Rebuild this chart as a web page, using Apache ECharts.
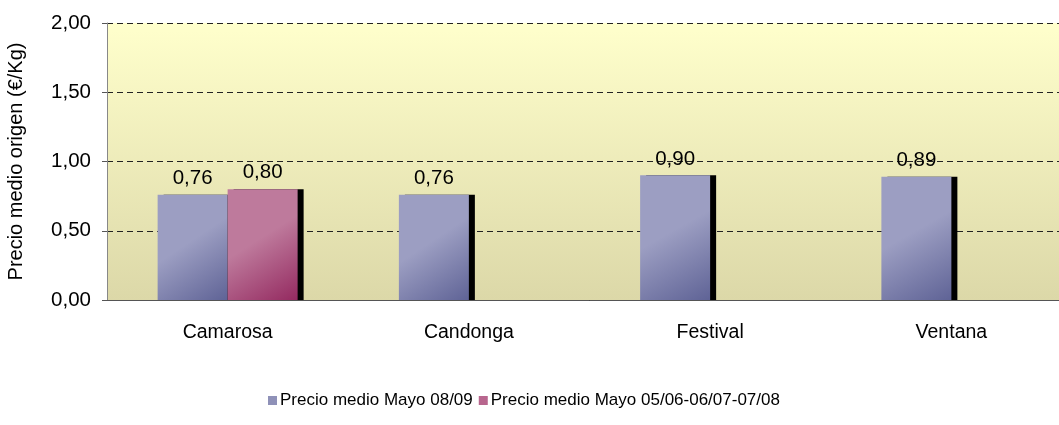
<!DOCTYPE html>
<html>
<head>
<meta charset="utf-8">
<script src="https://cdn.jsdelivr.net/npm/echarts@6/dist/echarts.min.js"></script>
<style>
html,body{margin:0;padding:0;background:#fff;overflow:hidden;}
#c{width:1073px;height:425px;}
</style>
</head>
<body>
<div id="c"></div>
<script>
var categories = ['Camarosa', 'Candonga', 'Festival', 'Ventana'];
var seriesNames = ['Precio medio Mayo 08/09', 'Precio medio Mayo 05/06-06/07-07/08'];
var valuesMayo0809 = [0.76, 0.76, 0.90, 0.89];
var valuesMayoPrev = [0.80, null, null, null];
var yTicks = [0, 0.5, 1, 1.5, 2];

var FONT = 'Liberation Sans, Arial, sans-serif';
function fmt(v) { return v.toFixed(2).replace('.', ','); }
function grad(light, dark) {
  return {
    type: 'linear', x: 0, y: 0, x2: 1, y2: 1,
    colorStops: [
      { offset: 0, color: light },
      { offset: 0.45, color: light },
      { offset: 1, color: dark }
    ]
  };
}

var chart = echarts.init(document.getElementById('c'), null, { renderer: 'canvas' });
chart.setOption({
  animation: false,
  textStyle: { fontFamily: FONT },
  grid: {
    left: 107, right: 1, top: 23, bottom: 125,
    outerBoundsMode: 'none',
    containLabel: false,
    show: true,
    borderWidth: 0,
    backgroundColor: {
      type: 'linear', x: 0, y: 0, x2: 0, y2: 1,
      colorStops: [
        { offset: 0, color: '#FFFFCC' },
        { offset: 1, color: '#DCD8A8' }
      ]
    }
  },
  legend: {
    bottom: 11,
    left: 263,
    itemWidth: 9,
    itemHeight: 9,
    itemGap: 6,
    icon: 'rect',
    textStyle: { fontFamily: FONT, fontSize: 17, color: '#000', padding: [0, 0, 0, -2] },
    data: [
      { name: seriesNames[0], itemStyle: { color: '#8F91B8' } },
      { name: seriesNames[1], itemStyle: { color: '#B8668E' } }
    ]
  },
  xAxis: {
    type: 'category',
    data: categories,
    axisLine: { lineStyle: { color: '#555', width: 1 } },
    axisTick: { show: false },
    axisLabel: { fontFamily: FONT, fontSize: 19.5, color: '#000', margin: 23 }
  },
  yAxis: {
    type: 'value',
    min: 0, max: 2, interval: 0.5,
    name: 'Precio medio origen (€/Kg)',
    nameLocation: 'middle',
    nameGap: 81,
    nameTextStyle: { fontFamily: FONT, fontSize: 20, color: '#000' },
    axisLine: { show: true, lineStyle: { color: '#888' } },
    axisTick: { show: true, length: 5, lineStyle: { color: '#555' } },
    axisLabel: {
      fontFamily: FONT, fontSize: 20.5, color: '#000', margin: 16,
      formatter: function (v) { return fmt(v); }
    },
    splitLine: { show: true, lineStyle: { color: '#222', type: [6, 4], width: 1 } }
  },
  series: [
    {
      name: seriesNames[0],
      type: 'bar',
      data: valuesMayo0809,
      barWidth: 70,
      barGap: '0%',
      itemStyle: {
        color: grad('#9C9EC2', '#5F6396'),
        shadowColor: '#000', shadowOffsetX: 6, shadowOffsetY: 0, shadowBlur: 0
      },
      label: {
        show: true, position: 'top', distance: 6,
        fontFamily: FONT, fontSize: 20.5, color: '#000',
        formatter: function (p) { return fmt(p.value); }
      }
    },
    {
      name: seriesNames[1],
      type: 'bar',
      data: valuesMayoPrev,
      barWidth: 70,
      itemStyle: {
        color: grad('#BE7A9C', '#942A60'),
        shadowColor: '#000', shadowOffsetX: 6, shadowOffsetY: 0, shadowBlur: 0
      },
      label: {
        show: true, position: 'top', distance: 6,
        fontFamily: FONT, fontSize: 20.5, color: '#000',
        formatter: function (p) { return p.value == null ? '' : fmt(p.value); }
      }
    }
  ]
});
</script>
</body>
</html>
